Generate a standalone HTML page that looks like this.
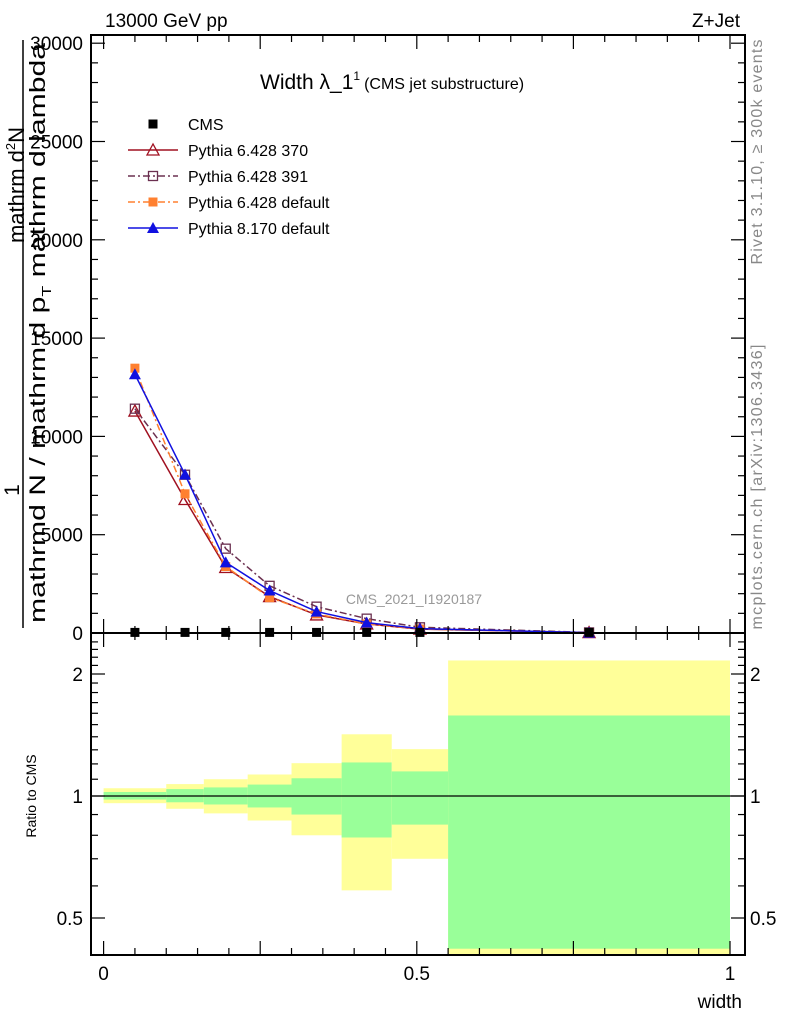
<!DOCTYPE html>
<html><head><meta charset="utf-8"><style>
html,body{margin:0;padding:0;background:#fff;}
svg{display:block;font-family:"Liberation Sans",sans-serif;}
</style></head><body>
<svg id="chart" width="786" height="1024" viewBox="0 0 786 1024" xmlns="http://www.w3.org/2000/svg">
<g id="ratioBands"></g>
<g id="marks"></g>
<g id="axes"></g>
<text x="105" y="27" font-size="19">13000 GeV pp</text>
<text x="740" y="27" font-size="19" text-anchor="end">Z+Jet</text>
<text x="260" y="89" font-size="21">Width λ_1<tspan font-size="12" dy="-9">1</tspan><tspan font-size="16" dy="9" dx="4">(CMS jet substructure)</tspan></text>
<text x="414" y="604" font-size="14" fill="#999" text-anchor="middle">CMS_2021_I1920187</text>
<text transform="translate(762,152) rotate(-90)" font-size="16" fill="#888" text-anchor="middle" textLength="225">Rivet 3.1.10, ≥ 300k events</text>
<text transform="translate(762,487) rotate(-90)" font-size="16" fill="#888" text-anchor="middle" textLength="285">mcplots.cern.ch [arXiv:1306.3436]</text>
<text transform="translate(24,185) rotate(-90)" font-size="22" text-anchor="middle">mathrm d<tspan font-size="13" dy="-9">2</tspan><tspan dy="9">N</tspan></text>
<line x1="23" y1="40" x2="23" y2="628" stroke="#000" stroke-width="1.5"/>
<text transform="translate(19,490) rotate(-90)" font-size="21" text-anchor="middle">1</text>
<text transform="translate(45,333) rotate(-90)" font-size="22" text-anchor="middle" textLength="580" lengthAdjust="spacingAndGlyphs">mathrmd N / mathrm d p<tspan font-size="13" dy="6">T</tspan><tspan dy="-6"> mathrm d lambda</tspan></text>
<text transform="translate(36,796) rotate(-90)" font-size="14" text-anchor="middle">Ratio to CMS</text>
<text x="742" y="1008" font-size="19" text-anchor="end">width</text>
<g id="legend"></g>
</svg>
<script>
const binEdges=[0,0.1,0.16,0.23,0.3,0.38,0.46,0.55,1];
const binCentres=[0.05,0.13,0.195,0.265,0.34,0.42,0.505,0.775];
const cmsValues=[30,30,30,30,30,30,30,30];
const p370=[11290,6790,3330,1850,920,460,200,20];
const p391=[11410,8050,4290,2400,1340,730,290,30];
const p6def=[13470,7080,3380,1800,970,460,200,20];
const p8def=[13160,8060,3590,2160,1090,530,220,20];
const statUp=[1.023,1.04,1.05,1.067,1.106,1.21,1.15,1.58];
const statDn=[0.98,0.965,0.953,0.937,0.90,0.79,0.85,0.42];
const totUp=[1.045,1.07,1.10,1.13,1.205,1.42,1.305,2.16];
const totDn=[0.96,0.93,0.906,0.87,0.80,0.585,0.70,0.38];
const yTicks=[0,5000,10000,15000,20000,25000,30000];
const xTicks=[0,0.5,1];
const rTicks=[0.5,1,2];

const NS="http://www.w3.org/2000/svg";
const L=91,R=745,T=35,MB=633,RB=955;
const X=v=>103.6+626.4*v;
const Y=v=>633-v*98.3/5000;
const RY=r=>796-122*Math.log2(r);
function mk(tag,attrs,parent){const e=document.createElementNS(NS,tag);for(const k in attrs)e.setAttribute(k,attrs[k]);parent.appendChild(e);return e;}
const bands=document.getElementById('ratioBands'),marks=document.getElementById('marks'),axes=document.getElementById('axes'),leg=document.getElementById('legend');
for(let i=0;i<binCentres.length;i++){
  const x1=X(binEdges[i]),x2=X(binEdges[i+1]);
  const y1=Math.max(RY(totUp[i]),634),y2=Math.min(RY(totDn[i]),RB);
  const b=mk('rect',{x:x1,y:y1,width:x2-x1,height:y2-y1,fill:'#ffff99'},bands);
  
  
  const s1=Math.max(RY(statUp[i]),634),s2=Math.min(RY(statDn[i]),RB);
  const g=mk('rect',{x:x1,y:s1,width:x2-x1,height:s2-s1,fill:'#99ff99'},bands);
  
  
}
const one=mk('line',{x1:L,x2:R,y1:RY(1),y2:RY(1),stroke:'#000','stroke-width':1.2},bands);



function marker(type,x,y,color,parent,name){
  let e;
  if(type==='sq') e=mk('rect',{x:x-4.5,y:y-4.5,width:9,height:9,fill:color},parent);
  else if(type==='osq') e=mk('rect',{x:x-4.5,y:y-4.5,width:9,height:9,fill:'#fff','fill-opacity':0,stroke:color,'stroke-width':1.3},parent);
  else if(type==='otri') e=mk('polygon',{points:`${x},${y-6} ${x-6},${y+5} ${x+6},${y+5}`,fill:'none',stroke:color,'stroke-width':1.3},parent);
  else e=mk('polygon',{points:`${x},${y-6} ${x-6},${y+5} ${x+6},${y+5}`,fill:color},parent);
  
  
}
const series=[
 {vals:p370,color:'#a01020',dash:'',m:'otri',name:'pythia6-370',label:'Pythia 6.428 370'},
 {vals:p391,color:'#6b3050',dash:'7,3,2,3',m:'osq',name:'pythia6-391',label:'Pythia 6.428 391'},
 {vals:p6def,color:'#ff8030',dash:'7,3,2,3',m:'sq',name:'pythia6-default',label:'Pythia 6.428 default'},
 {vals:p8def,color:'#1010e0',dash:'',m:'tri',name:'pythia8-default',label:'Pythia 8.170 default'}];
series.forEach(s=>{
  const pts=s.vals.map((v,i)=>X(binCentres[i])+','+Y(v)).join(' ');
  const pl=mk('polyline',{points:pts,fill:'none',stroke:s.color,'stroke-width':1.5,'stroke-dasharray':s.dash},marks);
  
  
  s.vals.forEach((v,i)=>marker(s.m,X(binCentres[i]),Y(v),s.color,marks,s.name+'-point'));
});
cmsValues.forEach((v,i)=>marker('sq',X(binCentres[i]),Y(v),'#000',marks,'cms-point'));

const f1=mk('rect',{x:L,y:T,width:R-L,height:MB-T,fill:'none',stroke:'#000','stroke-width':2},axes);


const f2=mk('rect',{x:L,y:MB,width:R-L,height:RB-MB,fill:'none',stroke:'#000','stroke-width':2},axes);


for(let v=0;v<=30000;v+=1000){
  const y=Y(v),len=v%5000===0?14:7;
  mk('line',{x1:L,x2:L+len,y1:y,y2:y,stroke:'#000','stroke-width':1.2},axes);
  mk('line',{x1:R,x2:R-len,y1:y,y2:y,stroke:'#000','stroke-width':1.2},axes);
}
yTicks.forEach(v=>{const t=mk('text',{x:83,y:Y(v)+7,'font-size':19,'text-anchor':'end'},axes);t.textContent=v;

});
for(let k=0;k<=20;k++){
  const v=k*0.05,x=X(v),len=k%5===0?14:7;
  [MB,RB].forEach(b=>mk('line',{x1:x,x2:x,y1:b,y2:b-len,stroke:'#000','stroke-width':1.2},axes));
  mk('line',{x1:x,x2:x,y1:MB,y2:MB+len,stroke:'#000','stroke-width':1.2},axes);
  mk('line',{x1:x,x2:x,y1:T,y2:T+len,stroke:'#000','stroke-width':1.2},axes);
}
xTicks.forEach(v=>{const t=mk('text',{x:X(v),y:980,'font-size':19,'text-anchor':'middle'},axes);t.textContent=v;

});
[0.4,0.5,0.6,0.7,0.8,0.9,1,1.1,1.2,1.3,1.4,1.5,1.6,1.7,1.8,1.9,2,2.1,2.2,2.3,2.4,2.5].forEach(r=>{
  const y=RY(r);if(y<MB+2||y>RB-1)return;
  const major=[0.5,1,2].includes(r),len=major?14:7;
  mk('line',{x1:L,x2:L+len,y1:y,y2:y,stroke:'#000','stroke-width':1.2},axes);
  mk('line',{x1:R,x2:R-len,y1:y,y2:y,stroke:'#000','stroke-width':1.2},axes);
});
rTicks.forEach(r=>{
  const t=mk('text',{x:83,y:RY(r)+7,'font-size':19,'text-anchor':'end'},axes);t.textContent=r;
  
  
  const t2=mk('text',{x:750,y:RY(r)+7,'font-size':19},axes);t2.textContent=r;
  
  
});
const ly=[124,150,176,202,228];
marker('sq',153,ly[0],'#000',leg,'legend-cms-marker');
let lt=mk('text',{x:188,y:ly[0]+6,'font-size':16},leg);lt.textContent='CMS';


series.forEach((s,i)=>{
  const y=ly[i+1];
  const ln=mk('line',{x1:128,x2:178,y1:y,y2:y,stroke:s.color,'stroke-width':1.5,'stroke-dasharray':s.dash},leg);
  
  
  marker(s.m,153,y,s.color,leg,'legend-marker');
  const t=mk('text',{x:188,y:y+6,'font-size':16},leg);t.textContent=s.label;
  
  
});
</script>
</body></html>
